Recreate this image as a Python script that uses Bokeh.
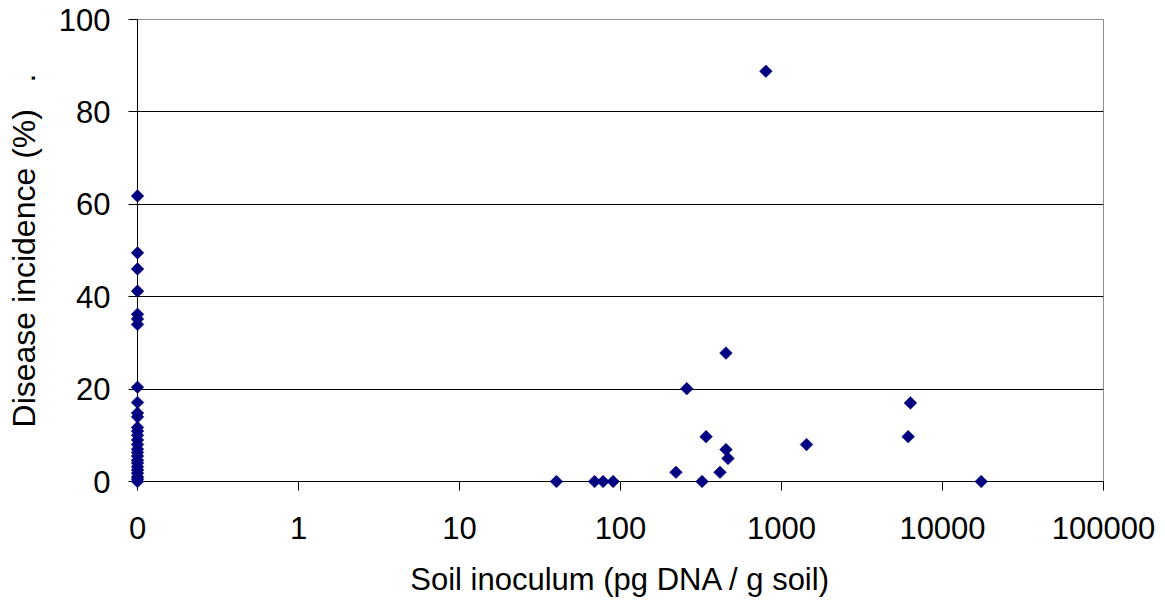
import numpy as np
from bokeh.plotting import figure
from bokeh.models import Range1d, FixedTicker, CustomJSTickFormatter
from bokeh.embed import file_html
from bokeh.resources import INLINE

# Soil inoculum (pg DNA / g soil); 0 = not detected
inoculum = [0] * 27 + [40, 69, 78, 90, 221, 258, 321, 340, 415, 452, 452, 465,
                       800, 1430, 6120, 6320, 17400]
# Disease incidence (%)
incidence = [61.8, 49.5, 46.0, 41.2, 36.2, 35.2, 34.0, 20.4, 17.1, 14.8, 14.0,
             11.7, 10.9, 10.0, 9.0, 8.0, 7.0, 6.3, 5.5, 4.6, 4.0, 3.2, 2.5, 1.8,
             1.0, 0.5, 0.0,
             0.0, 0.0, 0.0, 0.0, 2.0, 20.1, 0.0, 9.7, 2.0, 27.8, 6.9, 5.0,
             88.8, 8.0, 9.7, 17.0, 0.0]
x_ticks = [0.1, 1, 10, 100, 1000, 10000, 100000]
y_ticks = [0, 20, 40, 60, 80, 100]

# zero values shown at the "0" position of the log axis
plot_x = [v if v > 0 else 0.1 for v in inoculum]

FONT = "Liberation Sans"

p = figure(width=1165, height=600, x_axis_type="log",
           x_range=Range1d(0.1, 100000), y_range=Range1d(0, 100),
           output_backend="svg", toolbar_location=None,
           min_border_left=137, min_border_right=62,
           min_border_top=19, min_border_bottom=119)

p.background_fill_color = "white"
p.border_fill_color = "white"
p.outline_line_color = "#8c8c8c"
p.outline_line_width = 1

p.xgrid.visible = False
p.ygrid.ticker = FixedTicker(ticks=y_ticks)
p.ygrid.grid_line_color = "black"
p.ygrid.grid_line_width = 1

p.xaxis.ticker = FixedTicker(ticks=x_ticks, minor_ticks=[])
p.xaxis.formatter = CustomJSTickFormatter(
    code="return tick < 0.5 ? '0' : tick.toFixed(0);")
p.yaxis.ticker = FixedTicker(ticks=y_ticks, minor_ticks=[])

for ax in (p.xaxis[0], p.yaxis[0]):
    ax.axis_line_color = "black"
    ax.axis_line_width = 1
    ax.major_tick_line_color = "black"
    ax.major_tick_out = 9
    ax.major_tick_in = 0
    ax.minor_tick_line_color = None
    ax.major_label_text_font = FONT
    ax.major_label_text_color = "black"
    ax.axis_label_text_font = FONT
    ax.axis_label_text_font_style = "normal"
    ax.axis_label_text_color = "black"

p.xaxis.major_label_text_font_size = "31px"
p.xaxis.axis_label_text_font_size = "31px"
p.yaxis.major_label_text_font_size = "31px"
p.yaxis.axis_label_text_font_size = "32px"

p.xaxis.axis_label = "Soil inoculum (pg DNA / g soil)"
p.xaxis.major_label_standoff = 26
p.xaxis.axis_label_standoff = 20
p.yaxis.axis_label = "Disease incidence (%)\u00a0\u00a0\u00a0."
p.yaxis.major_label_standoff = 18
p.yaxis.axis_label_standoff = 14

p.scatter(plot_x, incidence, marker="square", size=9, angle=np.pi / 4,
          fill_color="#000080", line_color="#000080", line_width=0.5,
          level="overlay")

open("out.html", "w").write(file_html(p, INLINE))
